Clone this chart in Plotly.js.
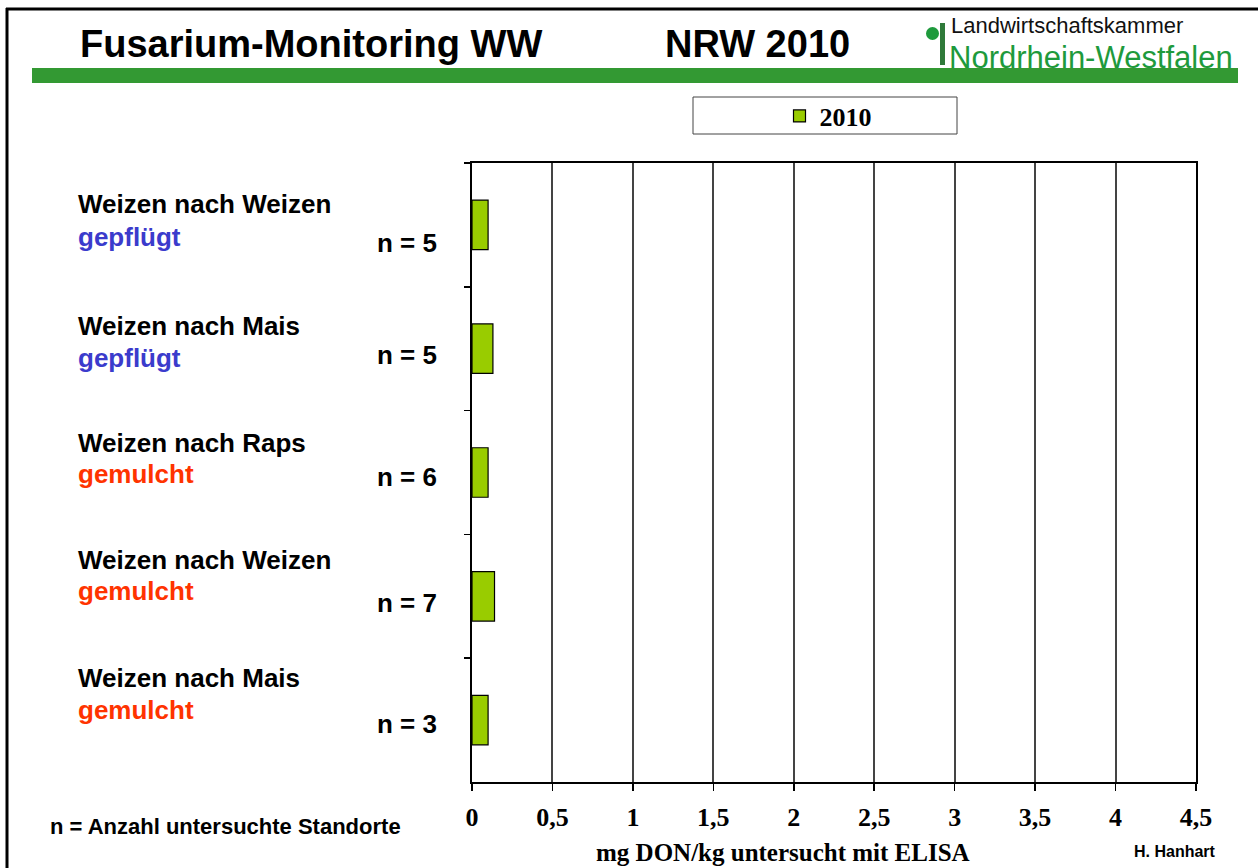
<!DOCTYPE html>
<html><head><meta charset="utf-8">
<script src="https://cdn.plot.ly/plotly-3.0.1.min.js"></script>
<style>html,body{margin:0;padding:0;background:#fff}#chart{width:1258px;height:868px}</style>
</head><body><div id="chart"></div><script>
// ---- data ----
const categories = ['Weizen nach Weizen gepflügt', 'Weizen nach Mais gepflügt', 'Weizen nach Raps gemulcht', 'Weizen nach Weizen gemulcht', 'Weizen nach Mais gemulcht'];
const cropLabels = ['Weizen nach Weizen', 'Weizen nach Mais', 'Weizen nach Raps', 'Weizen nach Weizen', 'Weizen nach Mais'];
const tillageLabels = ['gepflügt', 'gepflügt', 'gemulcht', 'gemulcht', 'gemulcht'];
const nSites = [5, 5, 6, 7, 3];
const don2010 = [0.10, 0.13, 0.10, 0.14, 0.10];
const seriesName = '2010';
const titleLeft = 'Fusarium-Monitoring WW';
const titleRight = 'NRW 2010';
const xAxisTitle = 'mg DON/kg untersucht mit ELISA';
const footNote = 'n = Anzahl untersuchte Standorte';
const author = 'H. Hanhart';
const logoTop = 'Landwirtschaftskammer';
const logoBottom = 'Nordrhein-Westfalen';

// ---- layout geometry (pixels) ----
const W = 1258, H = 868, L = 472, R = 1196, T = 163, B = 782;
const px = v => (v - L) / (R - L);
const py = v => (B - v) / (B - T);
const line1Y = [204, 326, 443, 560, 678];
const line2Y = [237, 358, 474, 591, 710];
const nY = [243, 355, 477, 603, 724];
const tillColor = {'gepflügt': '#3b3bcc', 'gemulcht': '#ff3300'};
const sans = 'Liberation Sans, Arial, sans-serif';
const serif = 'Liberation Serif, Times New Roman, serif';

const trace = {
  type: 'bar', orientation: 'h', name: seriesName,
  y: categories, x: don2010, width: 0.4,
  marker: {color: '#99cc00', line: {color: '#000', width: 1.2}},
  hoverinfo: 'skip'
};

const ann = [];
function txt(t, x, y, size, opts) {
  ann.push(Object.assign({text: t, xref: 'paper', yref: 'paper', x: px(x), y: py(y),
    xanchor: 'left', yanchor: 'middle', showarrow: false,
    font: {family: sans, size: size, color: '#000', weight: 700}}, opts || {}));
}
categories.forEach((c, i) => {
  txt(cropLabels[i], 76, line1Y[i], 26);
  txt(tillageLabels[i], 76, line2Y[i], 26, {font: {family: sans, size: 26, color: tillColor[tillageLabels[i]], weight: 700}});
  txt('n = ' + nSites[i], 439, nY[i], 26, {xanchor: 'right'});
});
txt(titleLeft, 78, 44, 38);
txt(titleRight, 663, 44, 38);
txt(footNote, 48, 826, 22);
txt(author, 1132, 851, 16);
txt(xAxisTitle, 783, 852, 25, {xanchor: 'center', font: {family: serif, size: 25, color: '#000', weight: 700}});
txt(logoTop, 949, 26, 22, {font: {family: sans, size: 22, color: '#111', weight: 400}});
txt(logoBottom, 947, 58, 31, {font: {family: sans, size: 31, color: '#1e9a3c', weight: 400}});

const shapes = [
  {type: 'line', xref: 'paper', yref: 'paper', x0: px(7), x1: px(7), y0: py(8), y1: py(870), line: {color: '#000', width: 3}},
  {type: 'line', xref: 'paper', yref: 'paper', x0: px(6), x1: px(1260), y0: py(9), y1: py(9), line: {color: '#000', width: 3}},
  {type: 'rect', xref: 'paper', yref: 'paper', x0: px(32), x1: px(1238), y0: py(68), y1: py(83), fillcolor: '#339933', line: {width: 0}},
  {type: 'circle', xref: 'paper', yref: 'paper', x0: px(926), x1: px(939), y0: py(27), y1: py(40), fillcolor: '#1e9a3c', line: {width: 0}},
  {type: 'rect', xref: 'paper', yref: 'paper', x0: px(940), x1: px(945), y0: py(23), y1: py(65), fillcolor: '#2f7a3a', line: {width: 0}},
  {type: 'rect', xref: 'paper', yref: 'paper', x0: px(693), x1: px(957), y0: py(97), y1: py(134), line: {color: '#444', width: 1}}
];

const layout = {
  width: W, height: H,
  margin: {l: L, r: W - R, t: T, b: H - B},
  paper_bgcolor: '#fff', plot_bgcolor: '#fff',
  separators: ',.',
  showlegend: true,
  legend: {orientation: 'h', x: px(828), xanchor: 'center', y: py(116), yanchor: 'middle',
    bgcolor: 'rgba(0,0,0,0)', borderwidth: 0,
    font: {family: serif, size: 26, color: '#000', weight: 700}},
  xaxis: {range: [0, 4.5], tick0: 0, dtick: 0.5, ticks: 'outside', ticklen: 7, tickcolor: '#000', tickwidth: 1.5,
    showgrid: true, gridcolor: '#444', gridwidth: 2, zeroline: false,
    showline: true, linecolor: '#000', linewidth: 2, mirror: true,
    tickfont: {family: serif, size: 26, color: '#000', weight: 700}, ticklabelstandoff: 4,
    fixedrange: true},
  yaxis: {type: 'category', categoryorder: 'array', categoryarray: categories, autorange: 'reversed',
    tickson: 'boundaries', ticks: 'outside', ticklen: 6, tickcolor: '#000', tickwidth: 1.5,
    showticklabels: false, showgrid: false, showline: true, linecolor: '#000', linewidth: 2, mirror: true,
    fixedrange: true},
  annotations: ann, shapes: shapes
};
Plotly.newPlot('chart', [trace], layout, {displayModeBar: false, staticPlot: true});
</script></body></html>
